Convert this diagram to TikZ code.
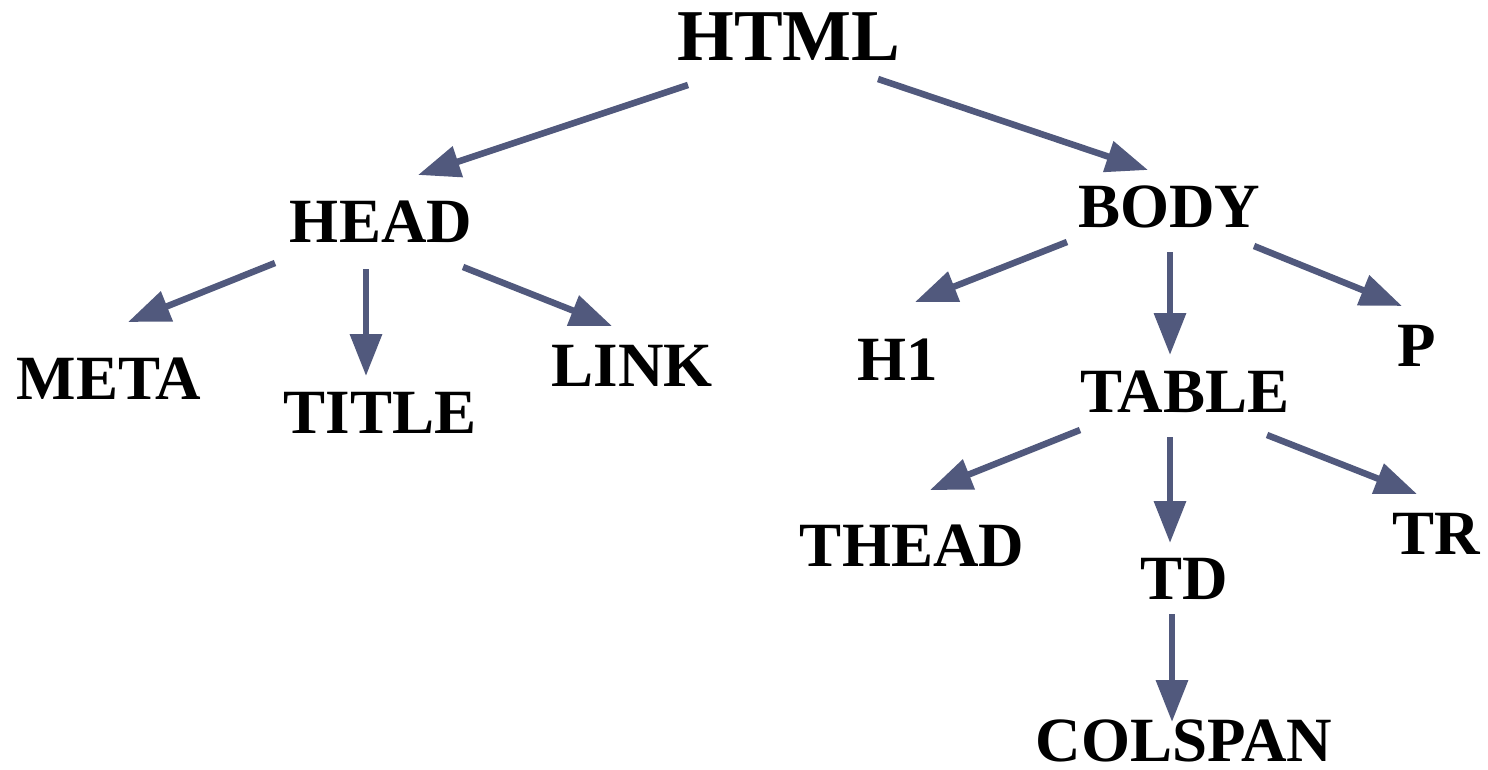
\documentclass[tikz,border=0pt]{standalone}
\usepackage{fontspec}
\setmainfont{Liberation Serif}
\usetikzlibrary{arrows.meta}
\definecolor{arrowblue}{RGB}{81,89,125}
\begin{document}
\begin{tikzpicture}[x=1pt,y=-1pt,
  lbl/.style={anchor=base,inner sep=0pt,text depth=0pt,font=\fontsize{63}{63}\selectfont\bfseries},
  big/.style={lbl,font=\fontsize{73}{73}\selectfont\bfseries},
  arr/.style={draw=arrowblue,line width=6.5pt,-{Triangle[length=42pt,width=31pt]},fill=arrowblue}]
\useasboundingbox (0,0) rectangle (1488,770);
\node[big] (html) at (789,61) {HTML};
\node[lbl] (head) at (381,243) {HEAD};
\node[lbl] (body) at (1169,227) {BODY};
\node[lbl] (meta) at (109,399) {META};
\node[lbl] (title) at (380,433) {TITLE};
\node[lbl] (link) at (632,386) {LINK};
\node[lbl] (h1) at (898,380) {H1};
\node[lbl] (table) at (1185,412) {TABLE};
\node[lbl] (p) at (1417,366) {P};
\node[lbl] (thead) at (912,566) {THEAD};
\node[lbl] (td) at (1184,599) {TD};
\node[lbl] (tr) at (1436,554) {TR};
\node[lbl] (colspan) at (1184,761) {COLSPAN};
\draw[arr] ([shift={(-101,24)}]html.base) -- ([shift={(37,-68)}]head.base);
\draw[arr] ([shift={(89,18)}]html.base) -- ([shift={(-21,-57)}]body.base);
\draw[arr] ([shift={(-106,20)}]head.base) -- ([shift={(19,-77)}]meta.base);
\draw[arr] ([shift={(-15,26)}]head.base) -- ([shift={(-14,-57)}]title.base);
\draw[arr] ([shift={(82,24)}]head.base) -- ([shift={(-20,-60)}]link.base);
\draw[arr] ([shift={(-102,15)}]body.base) -- ([shift={(17,-78)}]h1.base);
\draw[arr] ([shift={(1,25)}]body.base) -- ([shift={(-15,-57)}]table.base);
\draw[arr] ([shift={(85,19)}]body.base) -- ([shift={(-15,-60)}]p.base);
\draw[arr] ([shift={(-105,18)}]table.base) -- ([shift={(18,-76)}]thead.base);
\draw[arr] ([shift={(-15,25)}]table.base) -- ([shift={(-14,-56)}]td.base);
\draw[arr] ([shift={(82,23)}]table.base) -- ([shift={(-19,-60)}]tr.base);
\draw[arr] ([shift={(-12,15)}]td.base) -- ([shift={(-12,-39)}]colspan.base);
\end{tikzpicture}
\end{document}
